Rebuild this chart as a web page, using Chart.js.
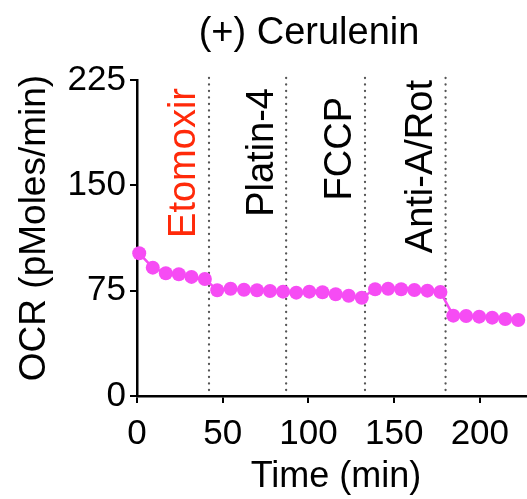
<!DOCTYPE html>
<html lang="en">
<head>
    <meta charset="UTF-8">
    <title>(+) Cerulenin</title>
    <script src="https://cdn.jsdelivr.net/npm/chart.js"></script>
    <style>
        html, body { margin: 0; padding: 0; background: white; overflow: hidden; }
        canvas { display: block; }
    </style>
</head>
<body>
    <canvas id="chartCanvas" width="527" height="499"></canvas>
    <script>
        // waktu pengukuran (menit) dan nilai OCR
        const times = [1.3, 9.2, 16.8, 24.4, 31.8, 39.6,
                       46.8, 54.6, 62.4, 70.0, 77.6, 85.2,
                       92.9, 100.5, 108.2, 115.9, 123.5, 131.1,
                       138.9, 146.5, 154.1, 161.8, 169.4, 177.0,
                       184.5, 192.0, 199.6, 207.2, 214.8, 222.4];
        const ocr = [101.6, 91.4, 87.4, 86.7, 84.8, 83.3,
                     75.3, 76.4, 75.7, 75.3, 74.8, 74.3,
                     73.6, 74.3, 73.9, 72.4, 71.4, 70.0,
                     76.0, 76.4, 76.0, 75.5, 75.0, 74.1,
                     57.2, 57.0, 56.5, 55.8, 54.8, 54.1];

        const injectionTimes = [42, 87, 133, 180];
        const injectionNames = ['Etomoxir', 'Platin-4', 'FCCP', 'Anti-A/Rot'];
        const injectionColors = ['#ff2a0a', '#000000', '#000000', '#000000'];
        const labelTops = [88, 88, 97, 80];

        const xTicks = [0, 50, 100, 150, 200];
        const yTicks = [0, 75, 150, 225];

        const FONT = "'Liberation Sans', Arial, sans-serif";

        // garis injeksi, label obat dan judul
        const annotations = {
            id: 'annotations',
            beforeDatasetsDraw(chart) {
                const ctx = chart.ctx;
                const xs = chart.scales.x;
                const area = chart.chartArea;
                ctx.save();
                ctx.strokeStyle = '#555555';
                ctx.lineWidth = 2.3;
                ctx.lineCap = 'round';
                ctx.setLineDash([0.1, 6.4]);
                injectionTimes.forEach(t => {
                    const px = xs.getPixelForValue(t);
                    ctx.beginPath();
                    ctx.moveTo(px, area.top - 2);
                    ctx.lineTo(px, area.bottom);
                    ctx.stroke();
                });
                ctx.restore();
            },
            afterDraw(chart) {
                const ctx = chart.ctx;
                const xs = chart.scales.x;
                ctx.save();
                ctx.font = '38px ' + FONT;
                ctx.textBaseline = 'middle';
                injectionTimes.forEach((t, i) => {
                    const px = xs.getPixelForValue(t) - 24;
                    ctx.save();
                    ctx.translate(px, labelTops[i]);
                    ctx.rotate(-Math.PI / 2);
                    ctx.textAlign = 'right';
                    ctx.fillStyle = injectionColors[i];
                    ctx.fillText(injectionNames[i], 0, 0);
                    ctx.restore();
                });

                ctx.fillStyle = '#000';
                ctx.textAlign = 'center';
                ctx.font = '38px ' + FONT;
                ctx.fillText('(+) Cerulenin', 309, 34);

                ctx.font = '36px ' + FONT;
                ctx.fillText('Time (min)', 336, 477);

                ctx.font = '37px ' + FONT;
                ctx.save();
                ctx.translate(35, 228);
                ctx.rotate(-Math.PI / 2);
                ctx.fillText('OCR (pMoles/min)', 0, 0);
                ctx.restore();
                ctx.restore();
            }
        };

        const ctx = document.getElementById('chartCanvas').getContext('2d');
        const chart = new Chart(ctx, {
            type: 'scatter',
            data: {
                datasets: [{
                    data: times.map((t, i) => ({ x: t, y: ocr[i] })),
                    showLine: true,
                    clip: false,
                    borderColor: '#f64cf4',
                    backgroundColor: '#f64cf4',
                    borderWidth: 2.5,
                    pointRadius: 7,
                    pointHoverRadius: 7,
                    pointBorderWidth: 0
                }]
            },
            options: {
                responsive: false,
                animation: false,
                layout: { autoPadding: false, padding: { top: 80, right: 0, left: 0, bottom: 0 } },
                plugins: {
                    legend: { display: false },
                    tooltip: { enabled: false }
                },
                scales: {
                    x: {
                        type: 'linear',
                        min: 0,
                        max: 227.5,
                        afterBuildTicks: s => { s.ticks = xTicks.map(v => ({ value: v })); },
                        afterFit: s => { s.height = 103; },
                        grid: { drawOnChartArea: false, color: '#000', tickLength: 7, lineWidth: 2 },
                        border: { color: '#000', width: 2.5 },
                        ticks: { color: '#000', font: { size: 35, family: FONT }, padding: 10, maxRotation: 0 }
                    },
                    y: {
                        min: 0,
                        max: 225,
                        afterBuildTicks: s => { s.ticks = yTicks.map(v => ({ value: v })); },
                        afterFit: s => { s.width = 137; },
                        grid: { drawOnChartArea: false, color: '#000', tickLength: 7, lineWidth: 2 },
                        border: { color: '#000', width: 2.5 },
                        ticks: { color: '#000', font: { size: 35, family: FONT }, padding: 4 }
                    }
                }
            },
            plugins: [annotations]
        });
    </script>
</body>
</html>
